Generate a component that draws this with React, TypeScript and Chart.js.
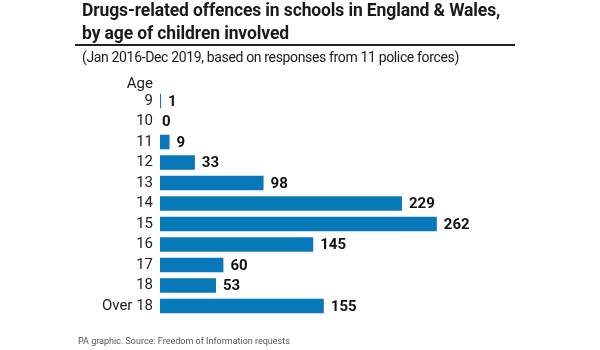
import React, { useEffect, useRef } from "react";
import { Chart, registerables } from "chart.js";

Chart.register(...registerables);

const categories = ["9", "10", "11", "12", "13", "14", "15", "16", "17", "18", "Over 18"];
const values = [1, 0, 9, 33, 98, 229, 262, 145, 60, 53, 155];

const titleLines = ["Drugs-related offences in schools in England & Wales,", "by age of children involved"];
const subtitle = "(Jan 2016-Dec 2019, based on responses from 11 police forces)";
const axisHeader = "Age";
const footer = "PA graphic. Source: Freedom of Information requests";

const BAR_COLOR = "#0878b8";
const FONT = "Roboto, 'Liberation Sans', sans-serif";

export default function App() {
  const ref = useRef<HTMLCanvasElement | null>(null);

  useEffect(() => {
    if (!ref.current) return;
    const labelPlugin = {
      id: "valueLabels",
      afterDatasetsDraw(chart: any) {
        const ctx = chart.ctx;
        const meta = chart.getDatasetMeta(0);
        ctx.save();
        ctx.font = `bold 15px ${FONT}`;
        ctx.fillStyle = "#111";
        ctx.textAlign = "left";
        ctx.textBaseline = "middle";
        meta.data.forEach((bar: any, i: number) => {
          const gap = values[i] === 0 ? 2 : 7;
          ctx.fillText(String(values[i]), bar.x + gap, bar.y + 1);
        });
        ctx.restore();
      },
    };
    const chart = new Chart(ref.current, {
      type: "bar",
      data: {
        labels: categories,
        datasets: [
          {
            data: values,
            backgroundColor: BAR_COLOR,
            borderWidth: 0,
            barPercentage: 0.71,
            categoryPercentage: 1,
            minBarLength: 0,
          },
        ],
      },
      options: {
        indexAxis: "y",
        animation: false,
        responsive: false,
        devicePixelRatio: 1,
        layout: { padding: { top: 90.75, bottom: 33.75, right: 123, left: 0 } },
        plugins: { legend: { display: false }, tooltip: { enabled: false } },
        scales: {
          x: { display: false, min: 0, max: 300 },
          y: {
            grid: { display: false, drawTicks: false },
            border: { display: false },
            ticks: {
              autoSkip: false,
              padding: 7,
              color: "#222",
              font: { family: FONT, size: 15 },
            },
            afterFit(scale: any) {
              scale.width = 160;
            },
          },
        },
      },
      plugins: [labelPlugin],
    });
    return () => chart.destroy();
  }, []);

  return (
    <div style={{ position: "absolute", left: 0, top: 0, width: 600, height: 350, background: "#fff", fontFamily: FONT, color: "#1a1a1a" }}>
      <canvas ref={ref} width={600} height={350} style={{ position: "absolute", left: 0, top: 0 }} />
      <div style={{ position: "absolute", left: 82, top: -1, fontWeight: 700, fontSize: 17.5, lineHeight: "23px", letterSpacing: -0.12, whiteSpace: "nowrap" }}>
        {titleLines.map((l, i) => (
          <div key={i}>{l}</div>
        ))}
      </div>
      <div style={{ position: "absolute", left: 75, top: 44, width: 440, height: 1.5, background: "#222" }} />
      <div style={{ position: "absolute", left: 82, top: 48, fontSize: 14, lineHeight: "18px", whiteSpace: "nowrap", letterSpacing: -0.35 }}>{subtitle}</div>
      <div style={{ position: "absolute", right: 600 - 153, top: 74, fontSize: 15, lineHeight: "18px", color: "#222" }}>{axisHeader}</div>
      <div style={{ position: "absolute", left: 78, top: 335, fontSize: 9, lineHeight: "12px", color: "#555", whiteSpace: "nowrap" }}>{footer}</div>
    </div>
  );
}
